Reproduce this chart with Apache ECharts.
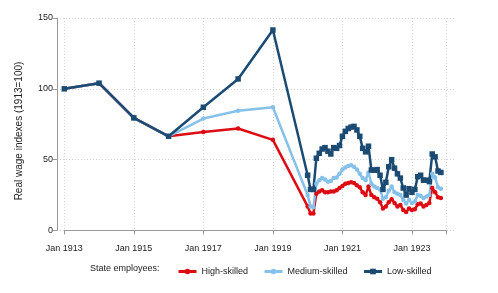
<!DOCTYPE html>
<html>
<head>
<meta charset="utf-8">
<script src="https://cdn.jsdelivr.net/npm/echarts@6/dist/echarts.min.js"></script>
<style>html,body{margin:0;padding:0;background:#fff}#c{width:498px;height:293px}</style>
</head>
<body>
<div id="c"></div>
<script>
// ---- data ----
var annualDates = ["1913-01","1914-01","1915-01","1916-01","1917-01","1918-01","1919-01"];
var annualHigh   = [100, 104, 79.5, 66.5, 69.5, 72, 64];
var annualMedium = [100, 104, 79.5, 66.5, 79, 84.5, 87];
var annualLow    = [100, 104, 79.5, 66.5, 87, 107, 141.5];

var monthlyDates = [
 "1920-01","1920-02","1920-03","1920-04","1920-05","1920-06","1920-07","1920-08","1920-09","1920-10","1920-11","1920-12",
 "1921-01","1921-02","1921-03","1921-04","1921-05","1921-06","1921-07","1921-08","1921-09","1921-10","1921-11","1921-12",
 "1922-01","1922-02","1922-03","1922-04","1922-05","1922-06","1922-07","1922-08","1922-09","1922-10","1922-11","1922-12",
 "1923-01","1923-02","1923-03","1923-04","1923-05","1923-06","1923-07","1923-08","1923-09","1923-10","1923-11"];
var monthlyHigh = [17,12,12,26,27.5,28.5,27,27,27.5,27.5,28.5,30,
 31.5,33,33.5,34,33.5,32,30.5,27,25,31,25,23.5,
 22.5,20,15.5,17,20,22,19.5,17,18,14.5,13,15.5,
 14.5,15,18.5,19,17,18,19.5,30,27,23.5,23];
var monthlyMedium = [25,17,16.5,33,35.5,37,36,34.5,35,37,37.5,40,
 43,44.5,45.5,46,45,43,40,37,35.5,41,33,31,
 30,29,22.5,23.5,28,31,27,26,25,21.5,19,21.5,
 19.5,20.5,25,24.5,23,24,25,40,37.5,30.5,29.5];
var monthlyLow = [39,29,29,51,54.5,57.5,58.5,56,54,58.5,58,60,
 66.5,70,72,73,73.5,71,66.5,58,55.5,59.5,42.7,42.5,
 43,39,29,34,45,50,44,40,37,30,25,29.5,
 27,29,38,39,35.5,35.5,34.5,54,52,42,41];

var xTickYears = [1913, 1915, 1917, 1919, 1921, 1923];
var yTicks = [0, 50, 100, 150];

// ---- build ----
function monthIndex(d){ var p = d.split("-"); return (parseInt(p[0],10)-1913)*12 + parseInt(p[1],10)-1; }
function pairs(dates, vals){ return dates.map(function(d,i){ return [monthIndex(d), vals[i]]; }); }
var dHigh = pairs(annualDates, annualHigh).concat(pairs(monthlyDates, monthlyHigh));
var dMed  = pairs(annualDates, annualMedium).concat(pairs(monthlyDates, monthlyMedium));
var dLow  = pairs(annualDates, annualLow).concat(pairs(monthlyDates, monthlyLow));

var FONT = "Liberation Sans, Arial, Helvetica, sans-serif";
var RED = "#dd0b12", LBLUE = "#86c1ea", NAVY = "#1b4a73";
var GRIDC = "#d4d4d4", AXC = "#9a9a9a", TXT = "#222";

var chart = echarts.init(document.getElementById('c'), null, {renderer:'canvas'});
chart.setOption({
  animation:false,
  backgroundColor:'#fff',
  textStyle:{fontFamily:FONT},
  grid:[
    {left:57, right:43, top:18, bottom:62.5},
    {left:64.3, right:51.3, top:18, bottom:62.5}
  ],
  xAxis:[
    {gridIndex:0, type:'value', min:0, max:1, show:false},
    {gridIndex:1, type:'value', min:0, max:132, interval:24, offset:8.5,
     axisLine:{show:true, lineStyle:{color:AXC, width:1}},
     axisTick:{show:true, length:4, lineStyle:{color:AXC}},
     axisLabel:{color:TXT, fontSize:9, fontFamily:FONT, margin:5,
       formatter:function(v){ return (v % 24 === 0 && v <= 120) ? "Jan " + (1913 + v/12) : ""; }},
     splitLine:{show:true, lineStyle:{color:GRIDC, type:[1,2], width:1}},
     minorTick:{show:false}}
  ],
  yAxis:[
    {gridIndex:0, type:'value', min:yTicks[0], max:yTicks[yTicks.length-1], interval:50,
     axisLine:{show:true, lineStyle:{color:AXC, width:1}},
     axisTick:{show:true, length:4, lineStyle:{color:AXC}},
     axisLabel:{color:TXT, fontSize:9, fontFamily:FONT, margin:4},
     splitLine:{show:true, lineStyle:{color:GRIDC, type:[1,2], width:1}}},
    {gridIndex:1, type:'value', min:0, max:150, show:false, splitLine:{show:false}}
  ],
  legend:{
    left:172, top:262, itemWidth:18, itemHeight:7, itemGap:15,
    lineStyle:{width:3},
    textStyle:{color:TXT, fontSize:9, fontFamily:FONT},
    data:['High-skilled','Medium-skilled','Low-skilled']
  },
  graphic:[
    {type:'text', left:90, top:264, style:{text:'State employees:', fill:TXT, fontSize:9, fontFamily:FONT}},
    {type:'text', x:19, y:131, rotation:Math.PI/2, style:{text:'Real wage indexes (1913=100)', fill:TXT, fontSize:10, fontFamily:FONT, align:'center', verticalAlign:'middle'}}
  ],
  series:[
    {name:'High-skilled', type:'line', xAxisIndex:1, yAxisIndex:1, data:dHigh,
     symbol:'circle', symbolSize:4.5, showSymbol:true,
     lineStyle:{color:RED, width:2.5}, itemStyle:{color:RED}},
    {name:'Medium-skilled', type:'line', xAxisIndex:1, yAxisIndex:1, data:dMed,
     symbol:'circle', symbolSize:4.5, showSymbol:true,
     lineStyle:{color:LBLUE, width:2.5}, itemStyle:{color:LBLUE}},
    {name:'Low-skilled', type:'line', xAxisIndex:1, yAxisIndex:1, data:dLow,
     symbol:'rect', symbolSize:5.5, showSymbol:true,
     lineStyle:{color:NAVY, width:2.5}, itemStyle:{color:NAVY}}
  ]
});
</script>
</body>
</html>
